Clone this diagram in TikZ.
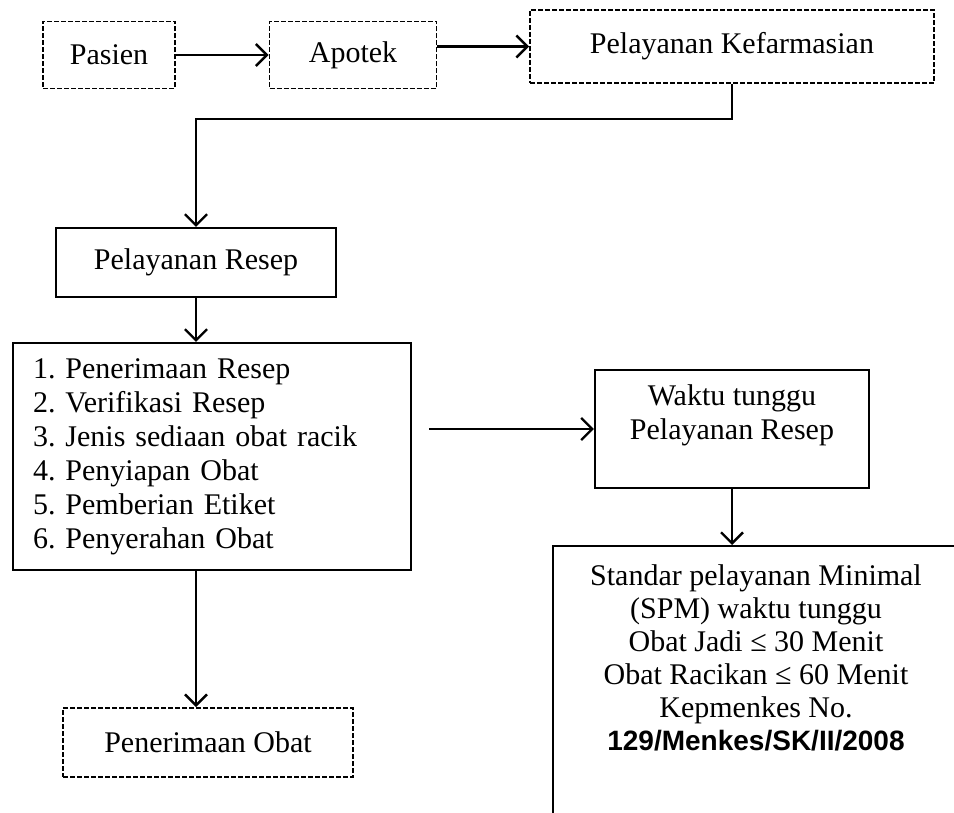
\documentclass[tikz,border=0pt]{standalone}
\usepackage{fontspec}
\setmainfont{Liberation Serif}
\setsansfont{Liberation Sans}
\usetikzlibrary{arrows.meta}
\usetikzlibrary{calc}
\frenchspacing
\tikzstyle{plainbox}=[rectangle,draw=black,line width=2.2pt,inner sep=0pt,font=\fontsize{30}{34}\selectfont]
\tikzstyle{dashedbox}=[plainbox,line width=1.8pt,dash pattern=on 5pt off 2pt]
\tikzstyle{edge} = [draw,line width=2.4pt,-{Straight Barb[length=11pt,width=22pt]}]

\begin{document}
\begin{tikzpicture}[x=1pt,y=-1pt]
    \useasboundingbox (0,0) rectangle (954,813);

    % First we draw the dashed boxes
    \foreach \pos/\name/\label/\w/\h in {{(109,55)/pasien/Pasien/132/67}, {(353,55)/apotek/Apotek/167/67}, {(732,46.5)/kefarmasian/Pelayanan Kefarmasian/404/73}, {(208,742.5)/penerimaan/Penerimaan Obat/290/69}}
        \node[dashedbox, minimum width=\w pt, minimum height=\h pt] (\name) at \pos {\label};

    % Then the solid boxes
    \node[plainbox, minimum width=280pt, minimum height=69pt] (resep) at (196,262.5) {Pelayanan Resep};
    \node[plainbox, minimum width=398pt, minimum height=227pt, text width=358pt, align=left] (langkah) at (212,456.5)
        {1. Penerimaan Resep\\ 2. Verifikasi Resep\\ 3. Jenis sediaan obat racik\\ 4. Penyiapan Obat\\ 5. Pemberian Etiket\\ 6. Penyerahan Obat};
    \node[plainbox, minimum width=274pt, minimum height=118pt, align=center] (waktu) at (732,429)
        {Waktu tunggu\\ Pelayanan Resep\\ ~};
    \node[plainbox, anchor=north, minimum width=406pt, inner ysep=19pt, align=center, font=\fontsize{30}{33}\selectfont] (spm) at (756,545)
        {Standar pelayanan Minimal\\ (SPM) waktu tunggu\\ Obat Jadi ≤ 30 Menit\\ Obat Racikan ≤ 60 Menit\\ Kepmenkes No.\\
         {\sffamily\bfseries\fontsize{28}{33}\selectfont 129/Menkes/SK/II/2008}\\ ~\\ ~};

    % Connect boxes with arrows
    \coordinate (langkahout) at ([xshift=17pt]langkah.east);
    \path[edge] (pasien) -- (apotek);
    \path[edge] (apotek.east |- kefarmasian.west) -- (kefarmasian.west);
    \path[edge] (kefarmasian.south) -- ++(0,35) -| (resep.north);
    \path[edge] (resep.south) -- (resep.south |- langkah.north);
    \path[edge] (langkahout |- waktu.west) -- (waktu.west);
    \path[edge] (waktu.south) -- (waktu.south |- spm.north);
    \path[edge] (resep.south |- langkah.south) -- (resep.south |- penerimaan.north);

\end{tikzpicture}
\end{document}
